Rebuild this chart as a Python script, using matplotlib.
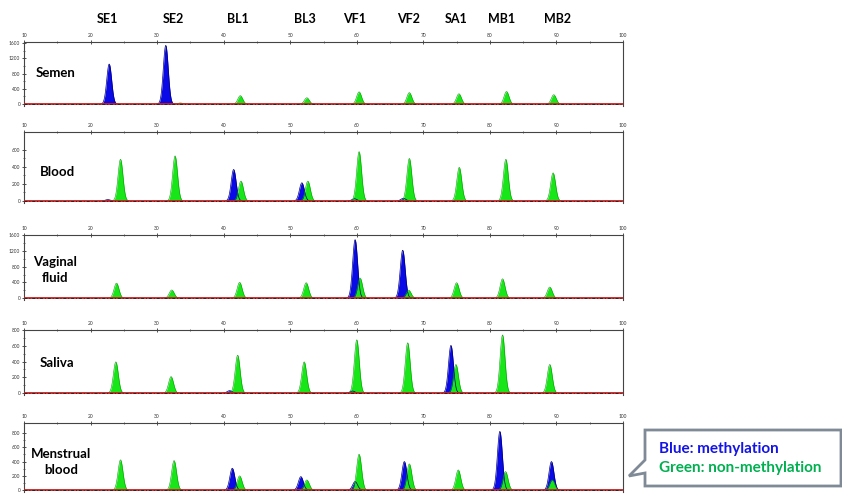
import numpy as np
import matplotlib
matplotlib.use("Agg")
import matplotlib.pyplot as plt
from matplotlib.patches import Polygon

plt.rcParams['font.family'] = ['Lato', 'DejaVu Sans']

# marker names on top
markers = ["SE1", "SE2", "BL1", "BL3", "VF1", "VF2", "SA1", "MB1", "MB2"]
marker_pos = [22.6, 32.4, 42.2, 52.2, 59.7, 67.8, 74.9, 81.8, 90.1]

samples = ["Semen", "Blood", "Vaginal\nfluid", "Saliva", "Menstrual\nblood"]

# peaks: (size, height)
semen_blue = [(22.8, 1050), (31.3, 1540)]
semen_green = [(33.5, 30), (42.5, 220), (52.5, 165), (60.35, 320), (67.9, 300),
               (75.35, 270), (82.5, 330), (89.6, 245)]

blood_blue = [(22.6, 15), (41.5, 370), (51.75, 213), (59.65, 25), (67.0, 30)]
blood_green = [(24.5, 490), (32.7, 530), (42.6, 233), (52.65, 233), (60.35, 580),
               (67.9, 500), (75.4, 395), (82.4, 490), (89.5, 330)]

vaginal_blue = [(59.75, 1490), (66.9, 1220)]
vaginal_green = [(23.9, 380), (32.2, 205), (42.4, 400), (52.4, 390), (60.5, 510),
                 (67.8, 200), (75.0, 390), (81.9, 490), (89.0, 280)]

saliva_blue = [(40.9, 30), (59.35, 25), (74.15, 604)]
saliva_green = [(23.8, 395), (32.1, 208), (42.1, 480), (52.1, 395), (60.0, 675),
                (67.65, 637), (74.9, 362), (81.9, 737), (89.0, 362)]

menstrual_blue = [(41.3, 306), (51.6, 188), (59.75, 118), (67.15, 400), (81.5, 824),
                  (89.25, 400)]
menstrual_green = [(24.5, 424), (32.55, 414), (42.4, 198), (52.5, 141), (60.35, 503),
                   (67.9, 367), (75.25, 282), (82.35, 259), (89.35, 141)]

blues = [semen_blue, blood_blue, vaginal_blue, saliva_blue, menstrual_blue]
greens = [semen_green, blood_green, vaginal_green, saliva_green, menstrual_green]

yticks = [[0, 400, 800, 1200, 1600], [0, 200, 400, 600], [0, 400, 800, 1200, 1600],
          [0, 200, 400, 600, 800], [0, 200, 400, 600, 800]]
ylims = [(-50, 1630), (-25, 812), (-50, 1610), (-25, 800), (-28, 943)]

# panel placement in pixels (top, bottom)
panel_px = [(42, 106), (132, 203), (235, 300), (330, 395), (423, 492)]
label_px = [(56, 73), (57, 172), (55, 270), (57, 363), (61, 462)]

W, H = 842, 499
fig = plt.figure(figsize=(W / 100, H / 100), dpi=100)

x = np.linspace(10, 100, 4000)
sig = 0.37
BLUE = "#0a0ae6"
GREEN = "#19e619"

axes = []
for i in range(5):
    top, bot = panel_px[i]
    ax = fig.add_axes([24 / W, 1 - bot / H, (623 - 24) / W, (bot - top) / H])
    axes.append(ax)
    ax.set_xlim(10, 100)
    ax.set_ylim(*ylims[i])

    for pos, h in blues[i]:
        y = h * np.exp(-0.5 * ((x - pos) / sig) ** 2)
        m = y > 1
        ax.fill_between(x[m], 0, y[m], color=BLUE, lw=0)
        ax.plot(x[m], y[m], color="#00007a", lw=0.5)
    for pos, h in greens[i]:
        y = h * np.exp(-0.5 * ((x - pos) / sig) ** 2)
        m = y > 1
        ax.fill_between(x[m], 0, y[m], color=GREEN, lw=0)
        ax.plot(x[m], y[m], color="#0a9a0a", lw=0.4)

    # baseline
    ax.axhline(0, color="#c82020", lw=1.3, zorder=3)
    ax.axhline(0, color="#302020", lw=0.7, ls=(0, (3, 2, 1, 2)), zorder=4)

    ax.xaxis.tick_top()
    ax.set_xticks(np.arange(10, 101, 10))
    ax.set_xticks(np.arange(15, 100, 10), minor=True)
    ax.set_yticks(yticks[i])
    step = yticks[i][1] - yticks[i][0]
    ax.set_yticks(np.arange(step / 2, yticks[i][-1], step), minor=True)
    ax.tick_params(axis="both", which="major", labelsize=3.5, length=2.5,
                   width=0.6, direction="inout", colors="#333333", pad=1.5)
    ax.tick_params(axis="both", which="minor", length=2, width=0.5,
                   direction="inout", colors="#333333")
    ax.spines["bottom"].set_visible(False)
    for s in ["top", "left", "right"]:
        ax.spines[s].set_color("#444444")
        ax.spines[s].set_linewidth(0.8)
    ax.set_facecolor("white")

    lx, ly = label_px[i]
    fig.text(lx / W, 1 - ly / H, samples[i], fontsize=9.5, fontweight="bold",
             ha="center", va="center", linespacing=1.3)

# marker labels above the top panel
for name, pos in zip(markers, marker_pos):
    axes[0].text(pos, 1.36, name, transform=axes[0].get_xaxis_transform(),
                 fontsize=9, fontweight="bold", ha="center", va="center")

# callout box
pts = [(645, 430), (841, 430), (841, 486), (645, 486), (645, 473), (629, 476), (645, 460)]
poly = Polygon([(px / W, 1 - py / H) for px, py in pts], closed=True,
               transform=fig.transFigure, facecolor="white", edgecolor="#7f8a96", lw=2)
fig.patches.append(poly)
fig.text(659 / W, 1 - 449 / H, "Blue: methylation", color="#1414e6", fontsize=11,
         fontweight="bold", va="center")
fig.text(659 / W, 1 - 468 / H, "Green: non-methylation", color="#00b050", fontsize=11,
         fontweight="bold", va="center")

fig.savefig("out.png", dpi=100)
